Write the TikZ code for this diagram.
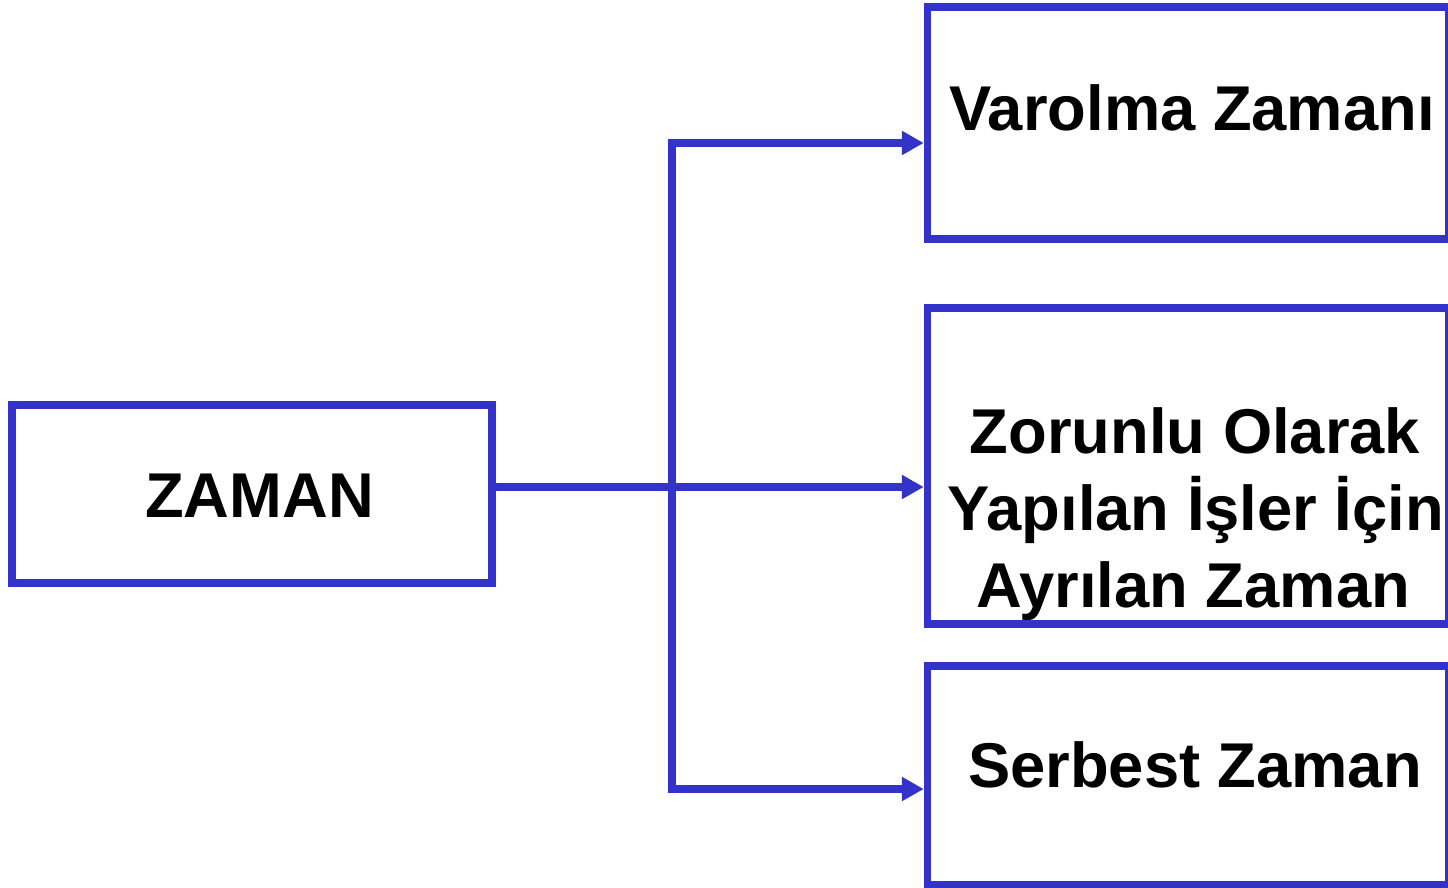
\documentclass[tikz,border=0pt]{standalone}
\usepackage{fontspec}
\setmainfont{Liberation Sans}
\usetikzlibrary{arrows.meta}
\definecolor{boxblue}{RGB}{51,51,204}
\begin{document}
\begin{tikzpicture}[x=1pt,y=-1pt,
  box/.style={draw=boxblue,line width=7.5pt,rectangle,inner sep=0pt,fill=none},
  lbl/.style={anchor=base,inner sep=0pt,font=\fontsize{63.3}{76}\selectfont\bfseries},
  conn/.style={draw=boxblue,line width=7.5pt},
  tip/.tip={Triangle[length=22pt,width=23pt]}
]
\useasboundingbox (0,0) rectangle (1448,888);
\node[box,minimum width=480pt,minimum height=178pt] (zaman) at (252,494) {};
\node[box,minimum width=521pt,minimum height=232pt] (varolma) at (1188,123) {};
\node[box,minimum width=521pt,minimum height=316pt] (zorunlu) at (1188,466) {};
\node[box,minimum width=521pt,minimum height=219pt] (serbest) at (1188,775.5) {};

\node[lbl] (tzaman) at (259.5,517) {ZAMAN};
\node[lbl] (tvarolma) at (1192,131) {Varolma Zamanı};
\node[lbl] (tz1) at (1195,453) {Zorunlu Olarak};
\node[lbl] (tz2) at (1196,530) {Yapılan İşler İçin};
\node[lbl] (tz3) at (1193,607) {Ayrılan Zaman};
\node[lbl] (tserbest) at (1195,787) {Serbest Zaman};

\coordinate (top) at (672,143);
\coordinate (bot) at (672,789);
\coordinate (mid) at (672,487);

\draw[conn,tip-tip] (top -| varolma.west) -- (top) -- (bot) -- (bot -| serbest.west);
\draw[conn,-tip] (mid -| zaman.east) -- (mid -| zorunlu.west);
\end{tikzpicture}
\end{document}
